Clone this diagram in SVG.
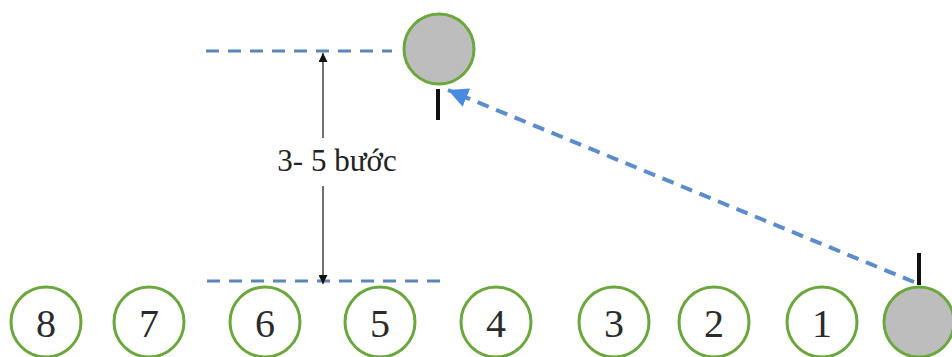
<svg xmlns="http://www.w3.org/2000/svg" width="952" height="357" viewBox="0 0 952 357">
  <style>
    .ring { fill: #ffffff; stroke: #6aa83c; stroke-width: 3; }
    .ball { fill: #bdbdbd; stroke: #6aa83c; stroke-width: 3; }
    .num { font-size: 40px; fill: #2b2b2b; text-anchor: middle; }
    .lbl { font-size: 31px; fill: #222222; text-anchor: middle; }
    .guide { stroke: #5a86b8; stroke-width: 3; stroke-dasharray: 13 9; fill: none; }
    .path { stroke: #5b8dcc; stroke-width: 4; stroke-dasharray: 12 8; fill: none; }
    .dim { stroke: #222222; stroke-width: 1.3; fill: none; }
    .tick { stroke: #111111; stroke-width: 4; }
  </style>
  <defs>
    <marker id="blk" viewBox="0 0 10 10" refX="10" refY="5" markerWidth="9" markerHeight="9" markerUnits="userSpaceOnUse" orient="auto">
      <path d="M0,0 L10,5 L0,10 z" fill="#111111"/>
    </marker>
    <marker id="blu" viewBox="0 0 10 10" refX="10" refY="5" markerWidth="20" markerHeight="20" markerUnits="userSpaceOnUse" orient="auto">
      <path d="M0,0 L10,5 L0,10 z" fill="#4a8ae0"/>
    </marker>
  </defs>

  <!-- guide lines and movement path -->
  <g id="connectors">
    <line class="guide" x1="206" y1="51" x2="392" y2="51"/>
    <line class="guide" x1="207" y1="281" x2="442" y2="281"/>
    <line class="dim" x1="323" y1="138" x2="323" y2="53" marker-end="url(#blk)"/>
    <line class="dim" x1="323" y1="186" x2="323" y2="284" marker-end="url(#blk)"/>
    <line class="path" x1="914" y1="282" x2="448" y2="90" marker-end="url(#blu)"/>
  </g>

  <g id="distance-label" font-family="'Liberation Serif', 'Times New Roman', 'DejaVu Serif', serif">
    <text class="lbl" x="337" y="171">3- 5 bước</text>
  </g>

  <!-- target position -->
  <g id="target">
    <circle class="ball" cx="439" cy="49" r="35"/>
    <line class="tick" x1="438" y1="89" x2="438" y2="120"/>
  </g>

  <!-- row of positions -->
  <g font-family="'Liberation Serif', 'Times New Roman', 'DejaVu Serif', serif">
    <g id="p8"><circle class="ring" cx="46" cy="322" r="35"/><text class="num" x="46" y="337">8</text></g>
    <g id="p7"><circle class="ring" cx="149" cy="322" r="35"/><text class="num" x="149" y="337">7</text></g>
    <g id="p6"><circle class="ring" cx="265" cy="322" r="35"/><text class="num" x="265" y="337">6</text></g>
    <g id="p5"><circle class="ring" cx="380" cy="322" r="35"/><text class="num" x="380" y="337">5</text></g>
    <g id="p4"><circle class="ring" cx="496" cy="322" r="35"/><text class="num" x="496" y="337">4</text></g>
    <g id="p3"><circle class="ring" cx="614" cy="322" r="35"/><text class="num" x="614" y="337">3</text></g>
    <g id="p2"><circle class="ring" cx="714" cy="322" r="35"/><text class="num" x="714" y="337">2</text></g>
    <g id="p1"><circle class="ring" cx="822" cy="322" r="35"/><text class="num" x="822" y="337">1</text></g>
  </g>

  <!-- starting position -->
  <g id="start">
    <circle class="ball" cx="919" cy="322" r="35"/>
    <line class="tick" x1="919" y1="253" x2="919" y2="285"/>
  </g>
</svg>
